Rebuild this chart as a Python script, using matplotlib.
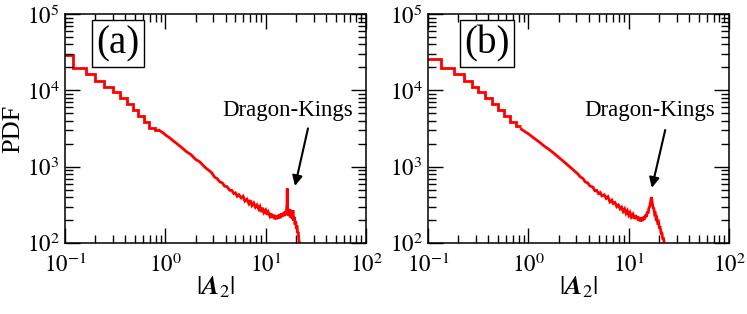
import matplotlib
matplotlib.use("Agg")
import matplotlib.pyplot as plt
from matplotlib.ticker import LogLocator, NullFormatter, FuncFormatter
import math

plt.rcParams['font.family'] = ['Liberation Serif', 'DejaVu Serif']
plt.rcParams['mathtext.fontset'] = 'stix'

# ---------------- data: panel (a) ----------------
edges_a = [0.09, 0.121, 0.162, 0.199, 0.246, 0.299, 0.354, 0.412, 0.473, 0.54, 0.61, 0.69, 0.78, 0.87]
steps_a = [2.9e4, 1.95e4, 1.62e4, 1.34e4, 1.12e4, 9.4e3, 7.9e3, 6.6e3, 5.5e3, 4.6e3, 3.9e3, 3.25e3, 3.0e3]
x_a = [0.87, 0.95, 1.0, 1.1, 1.2, 1.3, 1.45, 1.63, 1.8, 2.0, 2.2, 2.49, 2.7, 2.9, 3.1, 3.28,
       3.5, 3.7, 3.9, 4.1, 4.4, 4.6, 4.8, 5.0, 5.2, 5.4, 5.7, 5.96, 6.2, 6.5, 6.8, 7.0, 7.3,
       7.6, 7.9, 8.2, 8.5, 8.76, 9.0, 9.3, 9.6, 10.0, 10.3, 10.6, 11.0, 11.3, 11.6, 12.0,
       12.3, 12.6, 12.9, 13.2, 13.5, 13.8, 14.1, 14.4, 14.7, 15.0, 15.3, 15.6, 15.9, 16.1,
       16.3, 16.4, 16.5, 16.7, 16.9, 17.2, 17.5, 17.8, 18.1, 18.4, 18.7, 19.0, 19.3, 19.6,
       19.9, 20.2, 20.5, 20.8, 21.1, 21.4, 21.7]
y_a = [3000, 2780, 2620, 2400, 2180, 2010, 1790, 1570, 1440, 1250, 1160, 980, 900, 835, 730, 700,
       630, 615, 555, 550, 490, 490, 445, 455, 410, 430, 390, 410, 355, 375, 330, 365, 310,
       335, 295, 315, 280, 300, 255, 290, 250, 270, 235, 255, 225, 245, 215, 235,
       205, 230, 205, 232, 210, 240, 212, 245, 222, 250, 225, 260, 240, 262,
       330, 520, 300, 230, 280, 225, 275, 215, 260, 205, 270, 195, 220, 175,
       195, 155, 170, 135, 140, 112, 98]

# ---------------- data: panel (b) ----------------
edges_b = [0.09, 0.136, 0.183, 0.23, 0.273, 0.317, 0.37, 0.43, 0.493, 0.57, 0.655, 0.75, 0.85]
steps_b = [2.6e4, 1.94e4, 1.63e4, 1.34e4, 1.12e4, 9.4e3, 7.9e3, 6.6e3, 5.5e3, 4.6e3, 3.9e3, 3.4e3]
x_b = [0.85, 1.0, 1.1, 1.2, 1.3, 1.45, 1.63, 1.8, 2.0, 2.2, 2.49, 2.7, 2.9, 3.1, 3.28, 3.5,
       3.7, 3.9, 4.1, 4.4, 4.6, 4.8, 5.0, 5.2, 5.4, 5.7, 5.96, 6.2, 6.5, 6.8, 7.0, 7.3, 7.6,
       7.9, 8.2, 8.5, 8.8, 9.1, 9.4, 9.7, 10.0, 10.3, 10.6, 11.0, 11.3, 11.6, 12.0, 12.3,
       12.6, 12.9, 13.2, 13.5, 13.8, 14.1, 14.4, 14.7, 15.0, 15.3, 15.6, 15.9, 16.2, 16.5,
       16.8, 17.0, 17.2, 17.5, 17.8, 18.1, 18.4, 18.7, 19.0, 19.4, 19.8, 20.2, 20.6, 21.0,
       21.4, 21.8, 22.2, 22.6, 23.1]
y_b = [3100, 2700, 2450, 2250, 2080, 1850, 1660, 1500, 1330, 1200, 1040, 950, 870, 810, 740, 700,
       630, 615, 560, 540, 485, 490, 445, 460, 415, 430, 385, 405, 345, 365, 330, 340, 300,
       315, 280, 295, 260, 280, 245, 265, 232, 250, 220, 238, 208, 232, 205, 225,
       195, 218, 192, 215, 195, 222, 205, 235, 220, 258, 245, 290, 300, 345,
       400, 380, 330, 290, 285, 240, 245, 210, 215, 185, 190, 160, 160, 135,
       135, 115, 115, 100, 95]

panels = ["(a)", "(b)"]
label_xfrac = [0.176, 0.196]
dk_text_x = [16.6, 16.2]
arrow_tip = [(19.6, 560), (17.0, 530)]
arrow_tail = [(26.4, 3180), (23.1, 3030)]


def pow_fmt(v, pos):
    e = int(round(math.log10(v)))
    return r'$10^{%d}$' % e


fig = plt.figure(figsize=(7.47, 3.14), dpi=100)
ax_a = fig.add_axes([0.087, 0.226, 0.403, 0.729])
ax_b = fig.add_axes([0.573, 0.226, 0.403, 0.729])

data = [(edges_a, steps_a, x_a, y_a), (edges_b, steps_b, x_b, y_b)]
red = '#ff0000'

for i, ax in enumerate([ax_a, ax_b]):
    e, s, xx, yy = data[i]
    ax.stairs(s, e, color=red, lw=2.0, baseline=None)
    ax.plot(xx, yy, color=red, lw=2.0, solid_joinstyle='miter')
    ax.set_xscale('log')
    ax.set_yscale('log')
    ax.set_xlim(0.1, 100)
    ax.set_ylim(100, 1e5)
    ax.xaxis.set_major_locator(LogLocator(base=10, numticks=10))
    ax.yaxis.set_major_locator(LogLocator(base=10, numticks=10))
    ax.xaxis.set_minor_locator(LogLocator(base=10, subs=range(2, 10), numticks=20))
    ax.yaxis.set_minor_locator(LogLocator(base=10, subs=range(2, 10), numticks=20))
    ax.xaxis.set_major_formatter(FuncFormatter(pow_fmt))
    ax.yaxis.set_major_formatter(FuncFormatter(pow_fmt))
    ax.xaxis.set_minor_formatter(NullFormatter())
    ax.yaxis.set_minor_formatter(NullFormatter())
    ax.tick_params(which='both', direction='in', top=True, right=True, width=1.0)
    ax.tick_params(which='major', length=10.5, labelsize=16.5)
    ax.tick_params(axis='x', which='major', pad=8)
    ax.tick_params(axis='y', which='major', pad=4)
    ax.tick_params(which='minor', length=5.5)
    for sp in ax.spines.values():
        sp.set_linewidth(1.1)
    ax.set_xlabel(r'$|\mathbfit{A}_{2}|$', fontsize=19, labelpad=-2)
    ax.text(label_xfrac[i], 0.872, panels[i], transform=ax.transAxes, fontsize=28,
            ha='center', va='center',
            bbox=dict(boxstyle='square,pad=0.12', fc='white', ec='black', lw=1.0))
    ax.text(dk_text_x[i], 5530, 'Dragon-Kings', fontsize=16.5, ha='center', va='center')
    ax.annotate('', xy=arrow_tip[i], xytext=arrow_tail[i],
                arrowprops=dict(arrowstyle='-|>', color='black', lw=1.5,
                                mutation_scale=15, shrinkA=0, shrinkB=0))

ax_a.set_ylabel('PDF', fontsize=19, labelpad=2)

fig.savefig('out.png', dpi=100)
